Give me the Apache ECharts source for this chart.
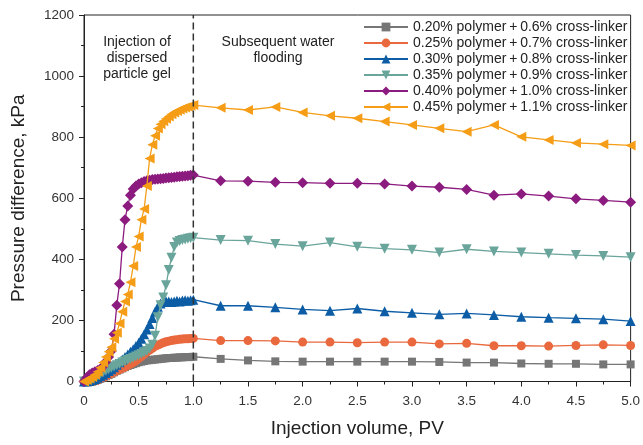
<!DOCTYPE html>
<html>
<head>
<meta charset="utf-8">
<script src="https://cdn.jsdelivr.net/npm/echarts@6/dist/echarts.min.js"></script>
<style>
html,body{margin:0;padding:0;background:#fff;}
#chart{width:643px;height:445px;}
</style>
</head>
<body>
<div id="chart"></div>
<script>
// Injection volume (PV)
const pvEarly = [0,0.025,0.05,0.075,0.1,0.125,0.15,0.175,0.2,0.225,0.25,0.275,0.3,0.325,0.35,0.375,0.4,0.425,0.45,0.475,0.5,0.525,0.55,0.575,0.6,0.625,0.65,0.675,0.7,0.725,0.75,0.775,0.8,0.825,0.85,0.875,0.9,0.925,0.95,0.975,1.0];
const pvLate = [1.25,1.5,1.75,2.0,2.25,2.5,2.75,3.0,3.25,3.5,3.75,4.0,4.25,4.5,4.75,5.0];

const seriesNames = [
  "0.20% polymer\u2009+\u20090.6% cross-linker",
  "0.25% polymer\u2009+\u20090.7% cross-linker",
  "0.30% polymer\u2009+\u20090.8% cross-linker",
  "0.35% polymer\u2009+\u20090.9% cross-linker",
  "0.40% polymer\u2009+\u20091.0% cross-linker",
  "0.45% polymer\u2009+\u20091.1% cross-linker"
];

// Pressure difference (kPa), early phase (gel injection)
const p020Early = [0,0,0,0,2,5,9,13,17,21,25,30,35,39,43,47,51,54,57,60,63,65,67,69,70,71,72,73,74,75,76,77,77,78,78,79,79,80,80,80,81];
const p025Early = [0,0,0,0,2,5,9,13,17,22,26,31,35,39,43,47,52,57,62,68,75,82,89,96,103,109,115,119,123,127,130,132,134,136,137,138,139,140,140,141,141];
const p030Early = [0,0,2,5,8,12,17,22,28,34,40,47,55,63,72,80,88,97,106,116,127,140,155,170,188,208,228,245,255,260,263,262,260,262,264,262,265,266,264,266,268];
const p035Early = [0,2,5,9,15,20,25,30,35,40,45,49,53,57,62,66,70,74,78,82,86,90,95,100,108,120,150,210,250,275,315,365,405,440,455,460,463,465,467,469,471];
const p040Early = [0,12,22,28,32,36,40,50,65,80,100,155,250,320,440,530,575,610,630,640,647,651,655,657,659,661,662,663,664,665,666,667,668,669,670,671,672,673,674,675,676];
const p045Early = [0,5,10,15,22,32,45,62,80,97,112,140,160,190,228,262,285,325,378,440,475,530,565,640,730,775,805,828,842,852,860,868,875,881,886,890,894,897,900,903,905];

// Pressure difference (kPa), subsequent water flooding
const p020Late = [74,69,66,65,65,65,65,65,64,62,62,59,58,58,56,56];
const p025Late = [134,134,133,129,129,127,129,129,123,125,117,117,116,118,120,118];
const p030Late = [248,248,243,236,232,239,230,225,220,223,218,212,209,207,204,198];
const p035Late = [463,461,450,443,455,441,435,431,422,433,426,422,418,414,411,407];
const p040Late = [657,656,652,651,649,649,647,640,636,629,610,614,607,598,593,587];
const p045Late = [896,889,899,881,870,862,851,840,829,818,840,801,791,781,777,773];

const xTicks = [0,0.5,1.0,1.5,2.0,2.5,3.0,3.5,4.0,4.5,5.0];
const yTicks = [0,200,400,600,800,1000,1200];

const pvAll = pvEarly.concat(pvLate);
const earlies = [p020Early,p025Early,p030Early,p035Early,p040Early,p045Early];
const lates = [p020Late,p025Late,p030Late,p035Late,p040Late,p045Late];

const styles = [
  {color:'#767676', symbol:'rect', size:8, rotate:0},
  {color:'#E9683D', symbol:'circle', size:9, rotate:0},
  {color:'#0C5DA5', symbol:'triangle', size:10, rotate:0},
  {color:'#6AA59B', symbol:'triangle', size:10, rotate:180},
  {color:'#8C1B7F', symbol:'diamond', size:11, rotate:0},
  {color:'#F59D16', symbol:'triangle', size:10, rotate:90}
];

const FONT = '"Liberation Sans", Arial, sans-serif';

const series = seriesNames.map((name,i)=>{
  const vals = earlies[i].concat(lates[i]);
  return {
    name: name,
    type: 'line',
    data: pvAll.map((x,j)=>[x, vals[j]]),
    symbol: styles[i].symbol,
    symbolSize: styles[i].size,
    symbolRotate: styles[i].rotate,
    showAllSymbol: true,
    color: styles[i].color,
    lineStyle: {width: 1.3, color: styles[i].color},
    itemStyle: {color: styles[i].color},
    animation: false,
    z: 2 + i
  };
});

series.push({
  type: 'line',
  data: [[1.0, 0], [1.0, 1200]],
  symbol: 'none',
  lineStyle: {color:'#333', width:1.5, type:[7,4]},
  animation: false,
  silent: true,
  z: 10
});

const chart = echarts.init(document.getElementById('chart'), null, {renderer:'canvas'});
chart.setOption({
  backgroundColor: '#fff',
  animation: false,
  grid: {left: 84, right: 9, top: 15, bottom: 63.5, show: true, borderColor: '#222', borderWidth: 1},
  legend: {
    data: seriesNames,
    orient: 'vertical',
    left: 363,
    top: 20,
    padding: 0,
    itemWidth: 44,
    itemHeight: 11,
    itemGap: 2,
    textStyle: {fontFamily: FONT, fontSize: 14, color: '#222', lineHeight: 14},
    selectedMode: false
  },
  xAxis: {
    type: 'value',
    min: 0, max: 5, interval: 0.5,
    axisLine: {show: true, lineStyle: {color:'#222', width:1}},
    axisTick: {show: true, inside: false, length: 5, lineStyle: {color:'#222'}},
    minorTick: {show: true, splitNumber: 2, length: 3, lineStyle: {color:'#222'}},
    splitLine: {show: false},
    axisLabel: {
      fontFamily: FONT, fontSize: 13.5, color: '#333', margin: 13,
      formatter: v => { const t = xTicks.find(k => Math.abs(k - v) < 1e-9); return t === 0 ? '0' : (t !== undefined ? t.toFixed(1) : ''); }
    },
    name: 'Injection volume, PV',
    nameLocation: 'middle',
    nameGap: 38,
    nameTextStyle: {fontFamily: FONT, fontSize: 19, color: '#222'}
  },
  yAxis: {
    type: 'value',
    min: 0, max: 1200, interval: 200,
    axisLine: {show: true, lineStyle: {color:'#222', width:1}},
    axisTick: {show: true, inside: false, length: 5, lineStyle: {color:'#222'}},
    minorTick: {show: true, splitNumber: 2, length: 3, lineStyle: {color:'#222'}},
    splitLine: {show: false},
    axisLabel: {
      fontFamily: FONT, fontSize: 13.5, color: '#333', margin: 10,
      formatter: v => String(yTicks.find(k => k === v) ?? v)
    },
    name: 'Pressure difference, kPa',
    nameLocation: 'middle',
    nameGap: 56,
    nameTextStyle: {fontFamily: FONT, fontSize: 19, color: '#222'}
  },
  graphic: [
    {type:'text', x: 137, y: 34, silent: true,
     style: {text: 'Injection of\ndispersed\nparticle gel', textAlign: 'center', fill: '#222', font: '14px ' + FONT, lineHeight: 16}},
    {type:'text', x: 278, y: 34, silent: true,
     style: {text: 'Subsequent water\nflooding', textAlign: 'center', fill: '#222', font: '14px ' + FONT, lineHeight: 16}}
  ],
  series: series
});
</script>
</body>
</html>
